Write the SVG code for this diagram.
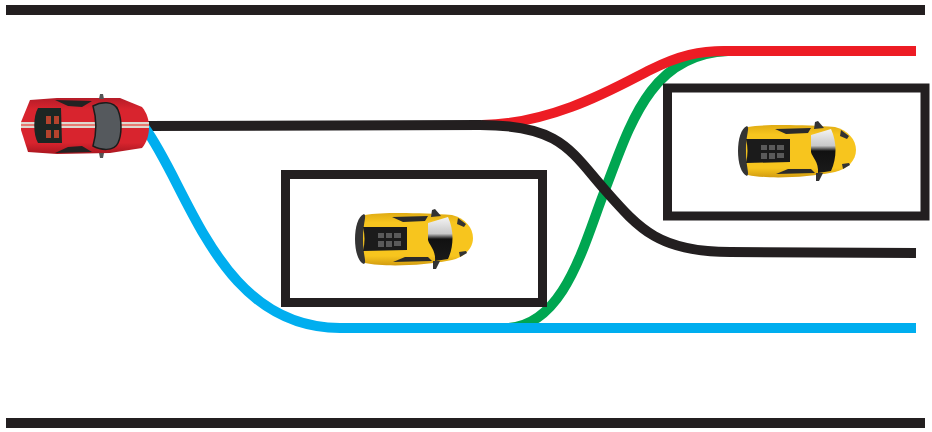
<svg xmlns="http://www.w3.org/2000/svg" width="932" height="432" viewBox="0 0 932 432">
<style>
.line{fill:none;stroke-width:10}
.box{fill:none;stroke:#231f20;stroke-width:9}
.bar{fill:#231f20}
</style>
<defs>
<linearGradient id="yb" x1="0" y1="0" x2="0" y2="1"><stop offset="0" stop-color="#e0ac14"/><stop offset=".18" stop-color="#f7c51e"/><stop offset=".82" stop-color="#f7c51e"/><stop offset="1" stop-color="#d29c10"/></linearGradient>
<linearGradient id="rb" x1="0" y1="0" x2="0" y2="1"><stop offset="0" stop-color="#b51c28"/><stop offset=".2" stop-color="#d8242e"/><stop offset=".8" stop-color="#d8242e"/><stop offset="1" stop-color="#a8161f"/></linearGradient>
<linearGradient id="gl" x1="0" y1="0" x2="0" y2="1"><stop offset="0" stop-color="#f4f4f4"/><stop offset=".38" stop-color="#c8c8c8"/><stop offset=".5" stop-color="#111"/><stop offset="1" stop-color="#1a1a1a"/></linearGradient>
<g id="yellowCar">
<path d="M-52 -22L-48 -25C-30 -28 10 -27 39 -25C52 -22 60 -12 60 -2C60 8 52 17 39 20C10 26 -30 27 -48 23L-52 20Z" fill="url(#yb)"/>
<path d="M-49 -26C-61 -22 -61 20 -49 24C-46 22 -50 16 -50 -1C-50 -18 -46 -24 -49 -26Z" fill="#343434"/>
<path d="M-50 -13L-6 -13L-6 10L-50 11C-48 3 -48 -5 -50 -13Z" fill="#1b1b1b"/>
<path d="M-35 -7h6v5h-6zM-27 -7h6v5h-6zM-19 -7h7v5h-7zM-35 1h6v6h-6zM-27 1h6v6h-6zM-19 1h7v5h-7z" fill="#5a5a5a"/>
<path d="M15 -17L35 -23C41 -10 41 6 35 19L22 21C23 10 16 5 15 0Z" fill="url(#gl)"/>
<path d="M-21 -23L15 -24L12 -19L-10 -18Z" fill="#2a2a2a"/>
<path d="M-20 22L19 21L15 17L-8 17Z" fill="#2a2a2a"/>
<path d="M18 -23L19 -30L22 -31L28 -24Z" fill="#333"/>
<path d="M20 29L23 29L27 21L20 21Z" fill="#333"/>
<path d="M45 -22l8 6l-2 3l-7 -3zM47 17l7 -4l-1 -2l-7 1z" fill="#333"/>
</g>
</defs>
<rect class="bar" x="6" y="5" width="919" height="10"/>
<rect class="bar" x="6" y="418" width="919" height="10"/>
<g id="connectors">
<path class="line" stroke="#00a651" d="M505 328C565 328 585 240 605 190C630 125 650 54 728 51"/>
<path class="line" stroke="#ed1c24" d="M482 125C555 124 620 85 650 70C680 55 700 51 725 51L916 51"/>
<path class="line" stroke="#231f20" d="M145 126L480 125C560 125 570 150 605 190C640 230 660 252 730 252L916 253"/>
<path class="line" stroke="#00aeef" d="M145 128C190 190 220 328 340 328L916 328"/>
</g>
<g id="obstacle-lower">
<rect class="box" x="285.500" y="174.500" width="257" height="128"/>
<use href="#yellowCar" transform="translate(413 240)"/>
</g>
<g id="obstacle-upper">
<rect class="box" x="667.500" y="88" width="257.500" height="128"/>
<use href="#yellowCar" transform="translate(796 152)"/>
</g>
<g id="red-car">
<path d="M21 122L30 100L57 98L120 98L142 107C147 113 149 120 149 127C149 135 147 142 142 148L110 153L57 154L28 152L21 130Z" fill="url(#rb)"/>
<rect x="21" y="122" width="128" height="6" fill="#ded8cf"/>
<rect x="21" y="124" width="128" height="2" fill="#e77a72"/>
<path d="M38 108L61 108L62 143L38 143C33 135 33 116 38 108Z" fill="#1c2623"/>
<path d="M46 116h5v8h-5zM54 116h5v8h-5zM46 130h5v8h-5zM54 130h5v8h-5z" fill="#b4432d"/>
<path d="M93 106C100 102 114 100 118 110C122 120 122 134 118 143C114 152 100 150 93 146C97 132 97 120 93 106Z" fill="#55595d" stroke="#1c1c1c" stroke-width="1.500"/>
<path d="M55 100L92 101L82 107L68 106Z" fill="#222"/>
<path d="M55 153L92 152L82 146L68 147Z" fill="#222"/>
<path d="M99 99l1 -5l3 0l1 5zM99 153l1 5l3 0l1 -5z" fill="#555"/>
</g>
</svg>
